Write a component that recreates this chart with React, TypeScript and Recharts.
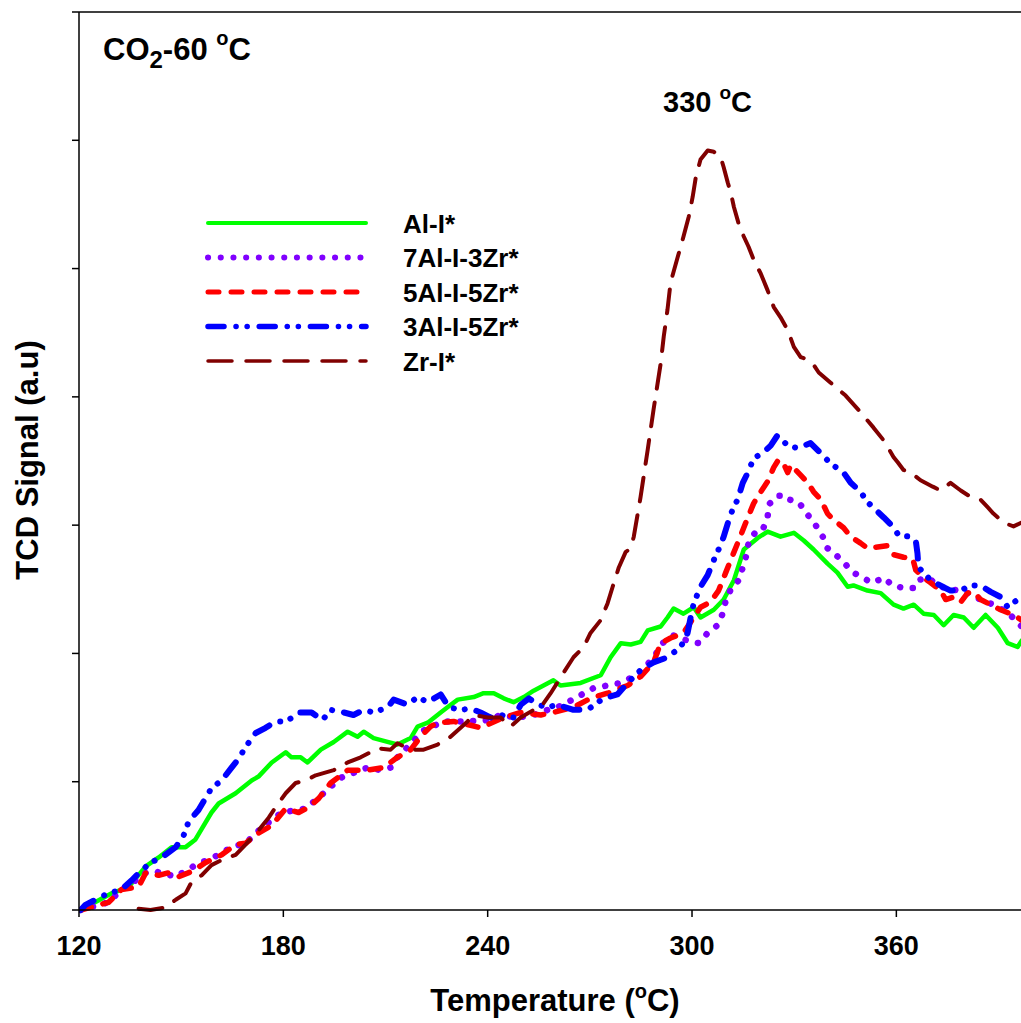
import React from 'react';
import { LineChart, Line, XAxis, YAxis, ReferenceLine } from 'recharts';

const FONT = '"Liberation Sans", Arial, Helvetica, sans-serif';

// temperature (°C), signal (a.u.)
const alI: [number, number][] = [
  [120.5, 0], [129.6, 0.13], [134.6, 0.18], [139.6, 0.34], [143.4, 0.41], [147.2, 0.49], [151.3, 0.49],
  [154.2, 0.55], [158.9, 0.76], [161.0, 0.83], [166.0, 0.91], [170.7, 1.01], [172.7, 1.04], [176.6, 1.15],
  [180.7, 1.23], [182.4, 1.19], [185.1, 1.19], [187.1, 1.15], [191.0, 1.25], [194.8, 1.31], [198.9, 1.39],
  [201.8, 1.35], [203.6, 1.39], [206.5, 1.34], [210.6, 1.31], [213.5, 1.29], [217.4, 1.34], [219.4, 1.43],
  [222.4, 1.46], [226.2, 1.54], [228.2, 1.58], [231.2, 1.64], [235.9, 1.66], [238.8, 1.69], [241.8, 1.69],
  [244.7, 1.65], [247.6, 1.62], [250.6, 1.66], [253.5, 1.71], [256.4, 1.75], [259.3, 1.79], [261.4, 1.75],
  [267.3, 1.77], [273.2, 1.83], [276.1, 1.97], [279.1, 2.08], [282.0, 2.07], [284.9, 2.09], [287.0, 2.18],
  [290.8, 2.21], [292.8, 2.28], [294.6, 2.35], [297.5, 2.31], [300.5, 2.36], [302.5, 2.28], [306.4, 2.34],
  [309.3, 2.42], [312.3, 2.57], [315.2, 2.81], [319.3, 2.9], [322.2, 2.95], [326.0, 2.91], [329.9, 2.94],
  [332.8, 2.88], [335.7, 2.81], [339.8, 2.7], [342.7, 2.63], [345.7, 2.52], [347.4, 2.53], [351.5, 2.49],
  [355.4, 2.47], [359.2, 2.38], [362.1, 2.35], [365.1, 2.38], [368.0, 2.31], [371.0, 2.3], [373.9, 2.22],
  [376.8, 2.3], [379.8, 2.28], [382.7, 2.2], [386.2, 2.3], [389.8, 2.2], [392.7, 2.08], [395.6, 2.05],
  [396.8, 2.1],
];

const al7Zr3: [number, number][] = [
  [120.5, 0], [128.7, 0.06], [132.5, 0.16], [136.6, 0.23], [139.6, 0.29], [142.5, 0.3], [148.4, 0.26],
  [154.2, 0.35], [159.5, 0.41], [164.8, 0.49], [168.9, 0.52], [173.6, 0.64], [179.5, 0.76], [186.5, 0.79],
  [191.8, 0.91], [196.8, 1.03], [204.7, 1.11], [208.6, 1.09], [211.5, 1.11], [213.5, 1.19], [216.5, 1.27],
  [221.2, 1.4], [227.1, 1.47], [232.9, 1.47], [240.0, 1.48], [243.8, 1.52], [248.8, 1.5], [253.5, 1.52],
  [257.6, 1.56], [261.4, 1.59], [271.1, 1.73], [279.1, 1.77], [284.9, 1.85], [289.3, 1.99], [290.8, 2.07],
  [294.6, 2.14], [299.6, 2.09], [302.0, 2.08], [304.6, 2.16], [307.5, 2.22], [309.0, 2.31], [309.9, 2.41],
  [311.4, 2.5], [313.7, 2.57], [314.9, 2.67], [315.8, 2.75], [316.6, 2.86], [318.7, 2.95], [320.7, 2.96],
  [322.2, 3.06], [322.5, 3.16], [325.1, 3.23], [327.5, 3.23], [328.4, 3.2], [331.3, 3.18], [334.0, 3.08],
  [336.3, 3.0], [338.4, 2.91], [339.8, 2.82], [342.2, 2.77], [344.5, 2.71], [347.4, 2.63], [350.1, 2.59],
  [353.0, 2.55], [356.3, 2.59], [358.9, 2.53], [362.1, 2.51], [365.1, 2.51], [366.2, 2.57], [369.2, 2.59],
  [373.0, 2.52], [378.0, 2.49], [380.9, 2.47], [384.7, 2.42], [388.5, 2.38], [392.7, 2.32], [396.8, 2.21],
];

const al5Zr5: [number, number][] = [
  [120.5, 0], [128.7, 0.06], [132.5, 0.16], [137.5, 0.18], [139.6, 0.29], [143.4, 0.27], [146.3, 0.29],
  [149.3, 0.26], [153.1, 0.3], [157.2, 0.37], [161.9, 0.43], [166.0, 0.51], [168.9, 0.52], [172.7, 0.6],
  [176.6, 0.66], [180.7, 0.79], [184.5, 0.76], [187.4, 0.8], [190.4, 0.87], [193.9, 0.99], [198.9, 1.09],
  [204.7, 1.09], [209.4, 1.11], [213.5, 1.19], [217.4, 1.25], [220.3, 1.35], [223.2, 1.43], [225.3, 1.46],
  [230.0, 1.47], [235.0, 1.44], [237.9, 1.42], [244.7, 1.5], [249.7, 1.54], [255.6, 1.52], [259.3, 1.54],
  [265.2, 1.58], [270.2, 1.65], [275.2, 1.69], [281.1, 1.75], [284.9, 1.82], [288.7, 1.93], [290.8, 2.08],
  [293.7, 2.12], [297.5, 2.16], [302.5, 2.36], [305.4, 2.4], [307.8, 2.49], [309.9, 2.63], [311.4, 2.73],
  [313.7, 2.88], [316.4, 3.06], [318.1, 3.17], [320.2, 3.26], [322.2, 3.34], [324.0, 3.45], [325.4, 3.51],
  [326.9, 3.48], [328.1, 3.41], [329.0, 3.47], [331.9, 3.39], [334.0, 3.33], [335.7, 3.26], [337.8, 3.2],
  [339.8, 3.09], [341.6, 3.04], [344.5, 2.98], [346.6, 2.91], [349.5, 2.86], [351.5, 2.82], [354.5, 2.83],
  [357.4, 2.84], [359.2, 2.77], [362.1, 2.75], [364.8, 2.74], [365.7, 2.65], [368.0, 2.59], [370.1, 2.55],
  [373.0, 2.49], [374.5, 2.42], [376.8, 2.44], [378.9, 2.4], [380.9, 2.47], [382.7, 2.48], [384.7, 2.42],
  [387.7, 2.38], [390.6, 2.34], [394.4, 2.3], [396.8, 2.26],
];

const al3Zr5: [number, number][] = [
  [120.5, 0], [121.9, 0.04], [127.8, 0.12], [132.5, 0.16], [135.4, 0.23], [136.9, 0.27], [141.0, 0.37],
  [144.3, 0.41], [148.4, 0.49], [150.7, 0.58], [152.2, 0.69], [155.1, 0.78], [158.9, 0.95], [161.9, 1.01],
  [164.8, 1.11], [166.9, 1.18], [168.9, 1.27], [171.9, 1.38], [174.8, 1.42], [177.7, 1.47], [181.0, 1.47],
  [184.5, 1.54], [188.3, 1.54], [190.4, 1.5], [191.5, 1.48], [193.9, 1.56], [197.7, 1.54], [200.6, 1.52],
  [203.6, 1.56], [206.5, 1.54], [210.6, 1.58], [212.4, 1.64], [216.5, 1.6], [219.4, 1.66], [222.4, 1.62],
  [226.2, 1.68], [228.6, 1.58], [232.1, 1.56], [235.0, 1.57], [237.9, 1.54], [240.9, 1.5], [243.8, 1.52],
  [247.6, 1.5], [249.7, 1.6], [252.1, 1.65], [254.7, 1.6], [257.6, 1.58], [260.5, 1.6], [265.2, 1.56],
  [269.3, 1.56], [274.0, 1.65], [278.1, 1.68], [281.1, 1.77], [284.9, 1.87], [288.7, 1.93], [292.8, 1.97],
  [296.7, 2.05], [298.7, 2.16], [299.6, 2.28], [300.5, 2.39], [302.5, 2.52], [304.6, 2.61], [306.1, 2.71],
  [307.8, 2.81], [309.3, 2.91], [310.8, 3.04], [311.9, 3.12], [313.4, 3.2], [314.9, 3.33], [316.4, 3.41],
  [318.1, 3.52], [321.1, 3.57], [323.1, 3.62], [325.1, 3.7], [328.1, 3.62], [331.0, 3.6], [334.8, 3.64],
  [337.8, 3.56], [340.7, 3.48], [344.5, 3.41], [346.6, 3.33], [349.5, 3.26], [351.5, 3.18], [353.9, 3.12],
  [356.3, 3.06], [358.9, 2.99], [360.7, 2.92], [364.2, 2.91], [365.7, 2.88], [366.2, 2.78], [366.5, 2.67],
  [368.0, 2.63], [370.1, 2.57], [373.6, 2.52], [375.9, 2.49], [378.9, 2.49], [381.8, 2.53], [384.7, 2.53],
  [387.7, 2.48], [390.6, 2.44], [392.7, 2.36], [395.6, 2.42], [396.8, 2.4],
];

const zrI: [number, number][] = [
  [137.5, 0.01], [141.0, 0], [145.4, 0.02], [148.4, 0.08], [151.3, 0.13], [153.1, 0.22], [156.0, 0.27],
  [158.9, 0.35], [161.9, 0.39], [166.0, 0.43], [168.9, 0.51], [172.7, 0.62], [175.7, 0.72], [177.7, 0.8],
  [180.7, 0.91], [183.6, 0.99], [186.5, 1.01], [189.5, 1.05], [194.8, 1.09], [198.9, 1.15], [202.7, 1.19],
  [207.7, 1.26], [211.5, 1.25], [213.5, 1.3], [217.4, 1.25], [221.2, 1.25], [225.3, 1.29], [229.1, 1.35],
  [234.1, 1.47], [235.9, 1.52], [240.0, 1.5], [243.8, 1.5], [246.7, 1.43], [249.7, 1.5], [253.5, 1.56],
  [255.6, 1.58], [258.5, 1.69], [262.3, 1.85], [265.2, 1.97], [268.2, 2.05], [270.2, 2.16], [273.2, 2.26],
  [275.2, 2.39], [276.7, 2.52], [278.5, 2.67], [280.5, 2.79], [282.0, 2.82], [282.9, 2.91], [284.9, 3.22],
  [287.0, 3.59], [288.7, 3.9], [290.8, 4.26], [291.7, 4.47], [292.8, 4.68], [293.7, 4.89], [295.8, 5.09],
  [297.5, 5.25], [299.0, 5.4], [300.2, 5.56], [301.1, 5.71], [302.5, 5.85], [304.6, 5.92], [306.4, 5.91],
  [308.4, 5.87], [309.3, 5.79], [310.5, 5.67], [311.4, 5.59], [312.3, 5.48], [313.7, 5.35], [315.2, 5.25],
  [316.6, 5.17], [318.1, 5.07], [320.2, 4.96], [322.2, 4.83], [324.0, 4.7], [326.0, 4.62], [328.1, 4.52],
  [329.9, 4.39], [331.9, 4.31], [334.0, 4.29], [335.7, 4.25], [337.2, 4.19], [340.7, 4.11], [345.1, 4.01],
  [349.5, 3.88], [353.3, 3.76], [356.3, 3.66], [359.2, 3.53], [360.4, 3.49], [362.1, 3.43], [364.2, 3.41],
  [367.1, 3.35], [370.7, 3.3], [373.0, 3.27], [375.9, 3.33], [378.9, 3.27], [381.8, 3.22], [384.7, 3.2],
  [386.8, 3.14], [388.5, 3.09], [391.5, 3.02], [394.4, 2.99], [396.8, 3.02],
];

const xTicks = [120, 180, 240, 300, 360];
const yTicks = [0, 1, 2, 3, 4, 5, 6, 7];

const series = [
  { name: 'Al-I*', points: alI, color: '#00ff00', width: 4.5, dash: undefined },
  { name: '7Al-I-3Zr*', points: al7Zr3, color: '#8000ff', width: 6.5, dash: '0.1 12.6' },
  { name: '5Al-I-5Zr*', points: al5Zr5, color: '#ff0000', width: 5.5, dash: '11 12' },
  { name: '3Al-I-5Zr*', points: al3Zr5, color: '#0000ff', width: 6, dash: '16 12 0.1 11 0.1 12' },
  { name: 'Zr-I*', points: zrI, color: '#800000', width: 4, dash: '24 14' },
];

const toRows = (pts: [number, number][]) => pts.map(([t, v]) => ({ t, v }));

const XTitle = () => (
  <text x={555} y={1011} textAnchor="middle" fontSize={31} fontWeight="bold" fill="#000" fontFamily={FONT}>
    Temperature (<tspan dy={-13} fontSize={20}>o</tspan><tspan dy={13}>C)</tspan>
  </text>
);

const YTitle = () => (
  <text transform="translate(38,460) rotate(-90)" textAnchor="middle" fontSize={31} fontWeight="bold" fill="#000" fontFamily={FONT}>
    TCD Signal (a.u)
  </text>
);

const Overlay = () => (
  <svg width={1021} height={1023} style={{ position: 'absolute', left: 0, top: 0, pointerEvents: 'none' }} fontFamily={FONT} fontWeight="bold">
    <text x={103} y={60} fontSize={31} fill="#000">
      CO<tspan dy={8} fontSize={24}>2</tspan>
      <tspan dy={-8}>-60 </tspan>
      <tspan dy={-15} fontSize={20}>o</tspan>
      <tspan dy={15}>C</tspan>
    </text>
    <text x={663} y={112} fontSize={29} fill="#000">
      330 <tspan dy={-13} fontSize={19}>o</tspan>
      <tspan dy={13}>C</tspan>
    </text>
    {series.map((s, i) => {
      const y = 223 + i * 34.5;
      return (
        <g key={s.name}>
          <line x1={208} x2={366} y1={y} y2={y} stroke={s.color} strokeWidth={s.width - 0.5}
            strokeDasharray={s.dash} strokeLinecap="round" />
          <text x={403} y={y + 9.5} fontSize={26} fill="#000">{s.name}</text>
        </g>
      );
    })}
  </svg>
);

export default function App() {
  return (
    <div style={{ position: 'absolute', left: 0, top: 0, width: 1021, height: 1023, background: '#fff', fontFamily: FONT }}>
      <LineChart width={1021} height={1023} margin={{ top: 12, right: 0, bottom: 0, left: 0 }}>
        <XAxis
          dataKey="t"
          type="number"
          domain={[120, 396.6]}
          ticks={xTicks}
          allowDataOverflow
          height={113}
          tickSize={7}
          tickMargin={19}
          axisLine={{ stroke: '#000', strokeWidth: 1.5 }}
          tickLine={{ stroke: '#000', strokeWidth: 1.5 }}
          tick={{ fill: '#000', fontSize: 27, fontWeight: 'bold', fontFamily: FONT }}
          label={<XTitle />}
        />
        <YAxis
          type="number"
          domain={[0, 7]}
          ticks={yTicks}
          width={79}
          tickSize={7}
          tickFormatter={() => ''}
          axisLine={{ stroke: '#000', strokeWidth: 1.5 }}
          tickLine={{ stroke: '#000', strokeWidth: 1.5 }}
          label={<YTitle />}
        />
        <ReferenceLine y={7} stroke="#000" strokeWidth={1.5} />
        {series.map((s) => (
          <Line
            key={s.name}
            name={s.name}
            data={toRows(s.points)}
            dataKey="v"
            type="linear"
            stroke={s.color}
            strokeWidth={s.width}
            strokeDasharray={s.dash}
            strokeLinecap="round"
            strokeLinejoin="round"
            dot={false}
            activeDot={false}
            isAnimationActive={false}
          />
        ))}
      </LineChart>
      <Overlay />
    </div>
  );
}
